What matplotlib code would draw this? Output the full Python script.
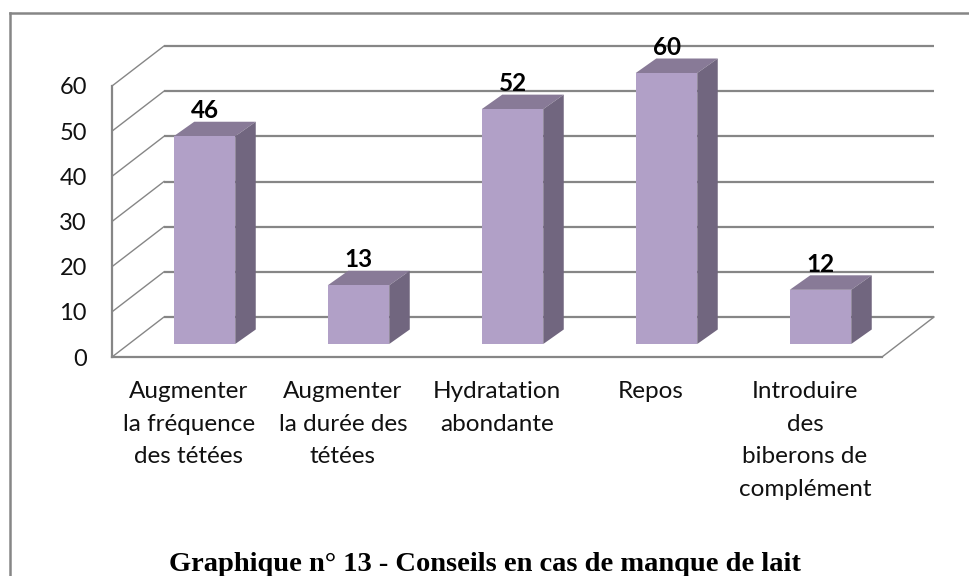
import matplotlib
matplotlib.use('Agg')
import matplotlib.pyplot as plt
from matplotlib.patches import Polygon
from matplotlib.lines import Line2D

plt.rcParams['font.family'] = ['Lato', 'DejaVu Sans']

categories = ['Augmenter\nla fréquence\ndes tétées', 'Augmenter\nla durée des\ntétées',
              'Hydratation\nabondante', 'Repos', 'Introduire\ndes\nbiberons de\ncomplément']
values = [46, 13, 52, 60, 12]
y_ticks = [0, 10, 20, 30, 40, 50, 60]
title = 'Graphique n° 13 - Conseils en cas de manque de lait'

W, H = 970, 576
fig = plt.figure(figsize=(W / 100, H / 100), dpi=100)
ax = fig.add_axes([112 / W, (H - 357) / H, 770 / W, 271 / H])
ax.set_xlim(-0.5, 4.5)
ax.set_ylim(0, 60)

# pixels -> data units, for the fake 3D depth
px_x = 5 / 770
px_y = 60 / 271
wall_dx, wall_dy = 52 * px_x, 40 * px_y
bar_dx, bar_dy = 20.5 * px_x, 14.5 * px_y
bar_w = 61.5 * px_x
off_x, off_y = 15.5 * px_x, 13 * px_y

grid_col = '#868686'
left, right = -0.5, 4.5

# walls and gridlines
for t in y_ticks:
    ax.plot([left, left + wall_dx], [t, t + wall_dy], color=grid_col, lw=1.0, clip_on=False, zorder=1)
    ax.plot([left + wall_dx, right + wall_dx], [t + wall_dy, t + wall_dy], color=grid_col, lw=1.6,
            clip_on=False, zorder=1, solid_capstyle='butt')
# floor edge on the right
ax.plot([right, right + wall_dx], [0, wall_dy], color=grid_col, lw=1.0, clip_on=False, zorder=1)

# bars
for i, v in enumerate(values):
    x0 = i - bar_w / 2 + off_x
    x1 = x0 + bar_w
    y0 = off_y
    y1 = off_y + v
    ax.add_patch(Polygon([(x0, y1), (x1, y1), (x1 + bar_dx, y1 + bar_dy), (x0 + bar_dx, y1 + bar_dy)],
                         closed=True, fc='#887a97', ec='none', zorder=3, clip_on=False))
    ax.add_patch(Polygon([(x1, y0), (x1 + bar_dx, y0 + bar_dy), (x1 + bar_dx, y1 + bar_dy), (x1, y1)],
                         closed=True, fc='#71667f', ec='none', zorder=3, clip_on=False))
    ax.bar(x0 + bar_w / 2, v, width=bar_w, bottom=y0, color='#b1a0c7', zorder=4, clip_on=False)
    ax.text(x0 + bar_w / 2, y1 + bar_dy + 11 * px_y, str(v), ha='center', va='center',
            fontsize=17.5, fontweight='bold', color='black', zorder=5)

for s in ['top', 'right']:
    ax.spines[s].set_visible(False)
for s in ['left', 'bottom']:
    ax.spines[s].set_color(grid_col)
    ax.spines[s].set_linewidth(1.6)

ax.set_yticks(y_ticks)
ax.set_xticks(range(len(categories)))
ax.set_xticklabels(categories, linespacing=1.7)
ax.tick_params(axis='both', length=0, labelsize=17.5, labelcolor='#111111')
ax.tick_params(axis='y', pad=18, labelsize=17)
ax.tick_params(axis='x', pad=17)
for lab in ax.get_xticklabels():
    lab.set_verticalalignment('top')

# chart frame, only left and top show in the crop
fig.add_artist(Line2D([10.5 / W, 10.5 / W], [0, (H - 13) / H], color='#868686', lw=1.8))
fig.add_artist(Line2D([10 / W, 1], [(H - 13) / H, (H - 13) / H], color='#868686', lw=1.8))

fig.text(485 / W, (H - 571) / H, title, ha='center', va='baseline', fontsize=20.5, fontweight='bold',
         family=['Liberation Serif', 'DejaVu Serif'], color='black')

plt.savefig('out.png', dpi=100)
